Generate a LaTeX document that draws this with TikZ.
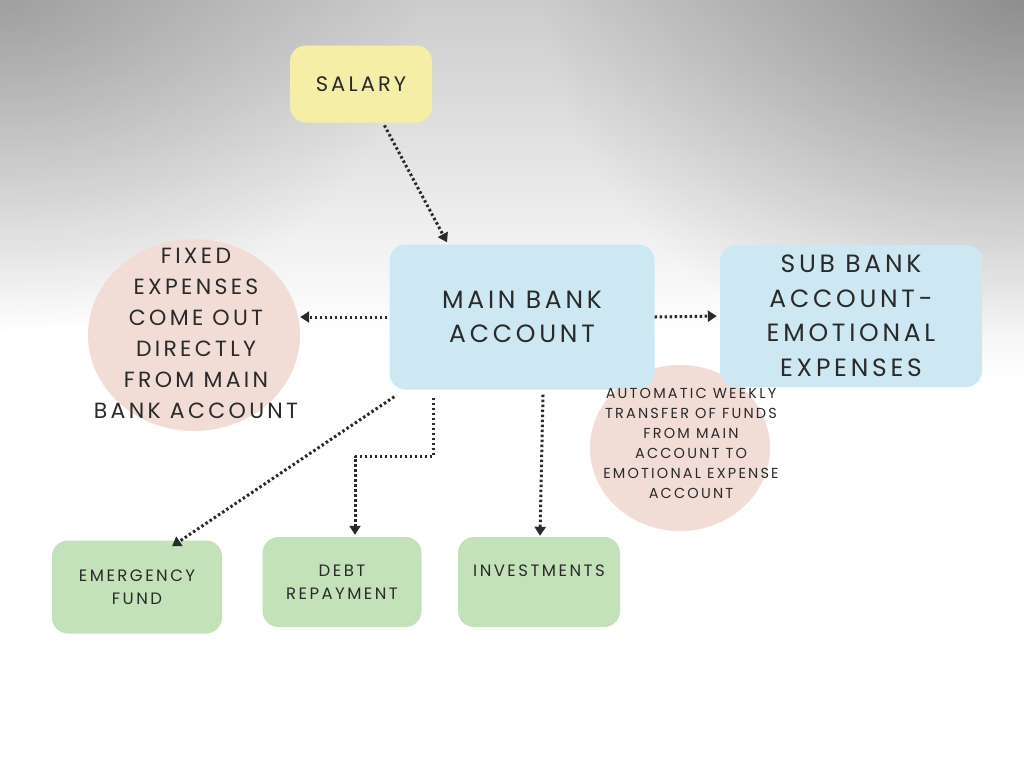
\documentclass[tikz,border=0pt]{standalone}
\usepackage{fontspec}
\setmainfont{Poppins}[LetterSpace=15.0]
\usepackage{tikz}
\usetikzlibrary{arrows.meta,positioning,shapes.geometric,fadings}
\definecolor{boxblue}{HTML}{CDE8F3}
\definecolor{boxgreen}{HTML}{C4E2B9}
\definecolor{boxyellow}{HTML}{F4EEA6}
\definecolor{notepink}{HTML}{F2DCD6}
\definecolor{ink}{HTML}{2A2A2A}
\tikzfading[name=cornerfade, inner color=transparent!0, outer color=transparent!100]
\tikzset{
  every picture/.style={line join=round, >=Stealth},
  card/.style={rectangle, rounded corners=16pt, inner sep=0pt, align=center, text=ink},
  bluecard/.style={card, fill=boxblue, font=\fontsize{25}{34.5}\selectfont},
  greencard/.style={card, fill=boxgreen, font=\fontsize{16.5}{23}\selectfont},
  yellowcard/.style={card, fill=boxyellow, font=\fontsize{21}{24}\selectfont},
  blob/.style={ellipse, fill=notepink, inner sep=0pt},
  notetext/.style={align=center, text=ink},
  corner/.style={fill=black, path fading=cornerfade},
  flow/.style={draw=ink, line width=3pt, dash pattern=on 2.5pt off 2.5pt,
    -{Triangle[length=9pt,width=11pt]}},
}
\begin{document}
\begin{tikzpicture}[x=1pt,y=1pt]
\useasboundingbox (0,0) rectangle (1024,-769);
% background
\begin{scope}
\clip (0,0) rectangle (1024,-769);
\fill[white] (0,0) rectangle (1024,-769);
\shade[top color=black!20, bottom color=white] (0,0) rectangle (1024,-335);
\fill[corner, fill opacity=0.22] (0,0) ellipse (420 and 330);
\fill[corner, fill opacity=0.30] (1024,0) ellipse (480 and 380);
\end{scope}
% notes
\node[blob, minimum width=212pt, minimum height=192pt] (fixedblob) at (194,-335) {};
\node[blob, minimum width=180pt, minimum height=166pt] (autoblob) at (680,-448) {};
% boxes
\node[yellowcard, minimum width=142pt, minimum height=77pt] (salary) at (361,-84) {SALARY};
\node[bluecard, minimum width=265pt, minimum height=145pt] (main) at (522,-317) {MAIN BANK\\ACCOUNT};
\node[bluecard, minimum width=262pt, minimum height=142pt] (sub) at (851,-316) {SUB BANK\\ACCOUNT-\\EMOTIONAL\\EXPENSES};
\node[greencard, minimum width=170pt, minimum height=93pt] (emergency) at (137,-587) {EMERGENCY\\FUND};
\node[greencard, minimum width=159pt, minimum height=90pt] (debt) at (342,-582) {DEBT\\REPAYMENT};
\node[greencard, minimum width=162pt, minimum height=90pt] (invest) at (539,-582) {INVESTMENTS\\~};
% note texts
\node[notetext, font=\fontsize{22}{31}\selectfont] (fixed) at (196,-333)
  {FIXED\\EXPENSES\\COME OUT\\DIRECTLY\\FROM MAIN\\BANK ACCOUNT};
\node[notetext, font=\fontsize{14.5}{20}\selectfont] (auto) at (691,-443)
  {AUTOMATIC WEEKLY\\TRANSFER OF FUNDS\\FROM MAIN\\ACCOUNT TO\\EMOTIONAL EXPENSE\\ACCOUNT};
% arrows
\draw[flow, shorten <=3pt] ([xshift=22pt]salary.south) -- ([xshift=-75pt,yshift=2pt]main.north);
\draw[flow, shorten <=2pt] (main.west) -- (main.west -| fixedblob.east);
\draw[flow, shorten >=3pt] (main.east) -- (sub.west);
\draw[flow] ([xshift=5pt,yshift=-7pt]main.south west) -- ([xshift=35pt,yshift=-6pt]emergency.north);
\draw[flow] ([xshift=44pt,yshift=-8pt]main.south west) -- ++(0,-59) -| ([xshift=13pt,yshift=2pt]debt.north);
\draw[flow] ([xshift=21pt,yshift=-5pt]main.south) -- ([xshift=1pt,yshift=1pt]invest.north);
\end{tikzpicture}
\end{document}
